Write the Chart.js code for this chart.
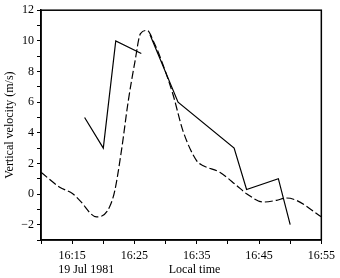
<!DOCTYPE html>
<html>
<head>
<meta charset="utf-8">
<script src="https://cdn.jsdelivr.net/npm/chart.js@4/dist/chart.umd.min.js"></script>
<style>
html,body{margin:0;padding:0;background:#fff;}
#wrap{width:340px;height:278px;position:relative;}
</style>
</head>
<body>
<div id="wrap"><canvas id="c" width="340" height="278"></canvas></div>
<script>
// minutes after 16:00
const solidTimes = [17, 20, 22, 26.1, null, 27.5, 32, 41, 43, 48.1, 50];
const solidValues = [5, 3, 10, 9.17, null, 10.4, 6, 3, 0.3, 1, -2];

const dashedTimes = [10, 13, 15.1, 16.2, 18.9, 19.7, 21, 21.85, 22.9, 24, 25.06, 25.97, 27.04, 28.1, 29.6, 31.2, 32.8, 35, 36.05, 38.7, 41.4, 43, 45.7, 47.8, 49.4, 51, 55];
const dashedValues = [1.42, 0.45, 0.02, -0.41, -1.49, -1.45, -0.85, 0.23, 2.8, 6.05, 8.6, 10.47, 10.68, 9.93, 8.42, 6.48, 4.11, 2.17, 1.85, 1.42, 0.56, 0.02, -0.52, -0.41, -0.26, -0.41, -1.49];

const xTickLabels = {15: '16:15', 25: '16:25', 35: '16:35', 45: '16:45', 55: '16:55'};
const yTickLabels = [-2, 0, 2, 4, 6, 8, 10, 12];
const dateLabel = '19 Jul 1981';
const xTitle = 'Local time';
const yTitle = 'Vertical velocity (m/s)';

const FONT = "'Liberation Serif', 'Times New Roman', serif";

const solidData = solidTimes.map((t, i) => ({x: t === null ? NaN : t, y: solidValues[i]}));
const dashedData = dashedTimes.map((t, i) => ({x: t, y: dashedValues[i]}));

const extraText = {
  id: 'extraText',
  afterDraw(chart) {
    const ctx = chart.ctx;
    const a = chart.chartArea;
    const xs = chart.scales.x;
    ctx.save();
    ctx.strokeStyle = '#000';
    ctx.lineWidth = 1.5;
    ctx.strokeRect(a.left, a.top, a.right - a.left, a.bottom - a.top);
    ctx.fillStyle = '#000';
    ctx.font = '12px ' + FONT;
    ctx.textBaseline = 'middle';
    ctx.textAlign = 'left';
    ctx.fillText(dateLabel, xs.getPixelForValue(15) - 14, 269.5);
    ctx.fillText(xTitle, xs.getPixelForValue(35) - 28, 269.5);
    ctx.restore();
  }
};

new Chart(document.getElementById('c'), {
  type: 'line',
  data: {
    datasets: [
      {
        data: solidData,
        borderColor: '#000',
        borderWidth: 1.2,
        pointRadius: 0,
        spanGaps: false,
        tension: 0,
        fill: false
      },
      {
        data: dashedData,
        borderColor: '#000',
        borderWidth: 1.2,
        borderDash: [8, 3],
        pointRadius: 0,
        cubicInterpolationMode: 'monotone',
        fill: false
      }
    ]
  },
  options: {
    responsive: false,
    animation: false,
    devicePixelRatio: 1,
    layout: {padding: {top: 8, right: 18, left: 0, bottom: 0}},
    plugins: {legend: {display: false}, tooltip: {enabled: false}},
    scales: {
      x: {
        type: 'linear',
        min: 10,
        max: 55,
        afterFit(s) { s.height = 38; },
        border: {color: '#000', width: 1.5},
        grid: {drawOnChartArea: false, drawTicks: true, tickLength: 4, color: '#000', lineWidth: 1},
        ticks: {
          stepSize: 5,
          autoSkip: false,
          maxRotation: 0,
          padding: 5,
          color: '#000',
          font: {family: FONT, size: 12},
          callback: (v) => xTickLabels[v] || ''
        }
      },
      y: {
        type: 'linear',
        min: -3,
        max: 12,
        afterFit(s) { s.width = 41; },
        border: {color: '#000', width: 1.5},
        grid: {drawOnChartArea: false, drawTicks: true, tickLength: 4, color: '#000', lineWidth: 1},
        title: {display: true, text: yTitle, color: '#000', font: {family: FONT, size: 12}, padding: {top: 3, bottom: 0}},
        ticks: {
          stepSize: 1,
          autoSkip: false,
          padding: 3,
          color: '#000',
          font: {family: FONT, size: 12},
          callback: (v) => yTickLabels.includes(v) ? String(v).replace('-', '\u2212') : ''
        }
      }
    }
  },
  plugins: [extraText]
});
</script>
</body>
</html>
